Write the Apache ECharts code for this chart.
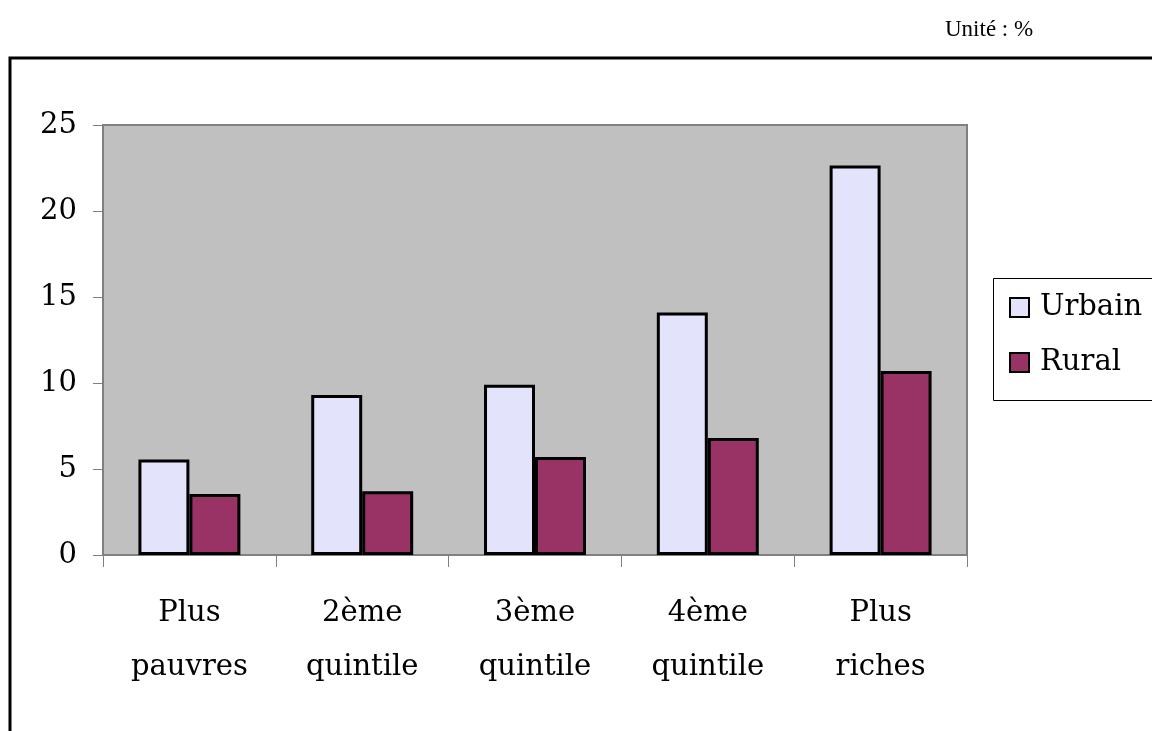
<!DOCTYPE html>
<html>
<head>
<meta charset="utf-8">
<script src="https://cdn.jsdelivr.net/npm/echarts@6/dist/echarts.min.js"></script>
<style>
  html, body { margin: 0; padding: 0; background: #fff; }
  #chart { width: 1152px; height: 731px; }
</style>
</head>
<body>
<div id="chart"></div>
<script>
// quintiles de bien-être
var categories = ['Plus\npauvres', '2ème\nquintile', '3ème\nquintile', '4ème\nquintile', 'Plus\nriches'];
var urbain = [5.55, 9.3, 9.9, 14.1, 22.65];
var rural = [3.55, 3.7, 5.7, 6.8, 10.7];
var seriesNames = ['Urbain', 'Rural'];

var serif = 'DejaVu Serif';
var chart = echarts.init(document.getElementById('chart'), null, { renderer: 'canvas' });

var option = {
  backgroundColor: '#ffffff',
  animation: false,
  graphic: [
    {
      // cadre extérieur
      type: 'rect',
      shape: { x: 10, y: 58, width: 1200, height: 800 },
      style: { fill: 'none', stroke: '#000', lineWidth: 3 },
      z: 0
    },
    {
      // cadre de la légende
      type: 'rect',
      shape: { x: 993.5, y: 278.5, width: 200, height: 122 },
      style: { fill: '#fff', stroke: '#000', lineWidth: 1 },
      z: 1
    },
    {
      type: 'text',
      left: 945,
      top: 18,
      style: { text: 'Unité : %', fontFamily: 'Liberation Serif', fontSize: 23, fill: '#000' }
    }
  ],
  legend: {
    orient: 'vertical',
    left: 1004,
    top: 288,
    itemGap: 26,
    itemWidth: 19,
    itemHeight: 19,
    icon: 'rect',
    selectedMode: false,
    textStyle: { fontFamily: serif, fontSize: 29, color: '#000', padding: [0, 0, 0, 6] },
    data: seriesNames,
    z: 5
  },
  grid: {
    left: 103,
    right: 185,
    top: 125,
    bottom: 176,
    show: true,
    backgroundColor: '#c0c0c0',
    borderColor: '#808080',
    borderWidth: 2
  },
  xAxis: {
    type: 'category',
    data: categories,
    axisLine: { lineStyle: { color: '#808080', width: 2 } },
    axisTick: { show: true, length: 12, alignWithLabel: false, lineStyle: { color: '#808080', width: 1 } },
    axisLabel: {
      color: '#000',
      fontFamily: serif,
      fontSize: 29,
      lineHeight: 54,
      margin: 31,
      interval: 0
    }
  },
  yAxis: {
    type: 'value',
    min: 0,
    max: 25,
    interval: 5,
    axisLine: { show: true, lineStyle: { color: '#808080', width: 2 } },
    axisTick: { show: true, length: 10, lineStyle: { color: '#808080', width: 1 } },
    splitLine: { show: false },
    axisLabel: { color: '#000', fontFamily: serif, fontSize: 29, margin: 26 }
  },
  series: [
    {
      name: seriesNames[0],
      type: 'bar',
      data: urbain,
      barGap: '0%',
      barCategoryGap: '41%',
      itemStyle: { color: '#e3e3fc', borderColor: '#000', borderWidth: 3 }
    },
    {
      name: seriesNames[1],
      type: 'bar',
      data: rural,
      itemStyle: { color: '#993366', borderColor: '#000', borderWidth: 3 }
    }
  ]
};

chart.setOption(option);
</script>
</body>
</html>
